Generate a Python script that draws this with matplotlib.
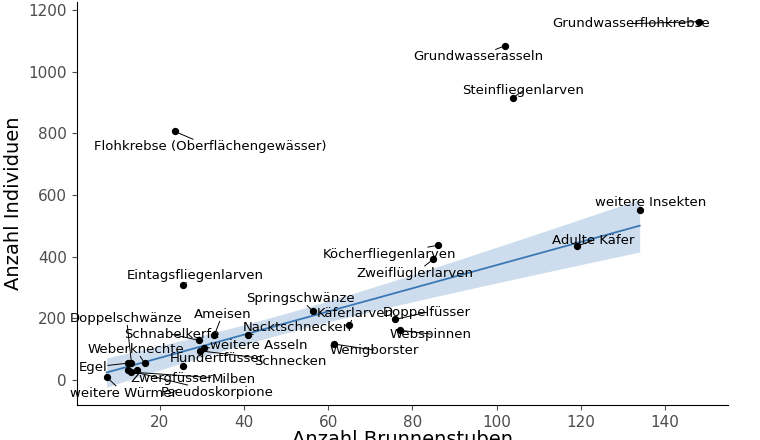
import numpy as np
import matplotlib
matplotlib.use("Agg")
import matplotlib.pyplot as plt

names = ["Grundwasserflohkrebse","Grundwasserasseln","Steinfliegenlarven","Flohkrebse (Oberflächengewässer)",
         "weitere Insekten","Adulte Käfer","Köcherfliegenlarven","Zweiflüglerlarven","Eintagsfliegenlarven",
         "Springschwänze","Käferlarven","Doppelfüsser","Webspinnen","Wenigborster","Nacktschnecken","Ameisen",
         "Schnabelkerfe","weitere Asseln","Schnecken","Hundertfüsser","Doppelschwänze","Weberknechte","Egel",
         "Zwergfüsser","Milben","Pseudoskorpione","weitere Würmer"]
brunnenstuben = [148,102,104,23.6,134,119,86,85,25.5,56.4,65,76,77,61.4,41,33,29.3,30.5,29.5,25.5,13.3,16.4,12.4,14.5,13.3,12.4,7.4]
individuen = [1162,1084,916,806,550,434,437,392,307,223,178,197,162,117,146,146,129,104,95,45,55,55,55,32,26,32,10]
in_fit = [False,False,False,False] + [True]*23
offsets = [(-67,-2),(-27,-11),(10,7),(35,-15),(11,8),(17,6),(-48,-9),(-18,-14),(12,10),(-13,13),(6,12),(31,7),(31,-4),
           (40,-6),(49,8),(8,21),(-27,6),(55,3),(91,-11),(34,8),(-5,45),(-9,14),(-35,-4),(35,-8),(102,-7),(89,-22),(17,-16)]

x = np.array(brunnenstuben); y = np.array(individuen)
m = np.array(in_fit)
fig = plt.figure(figsize=(7.6,4.4), dpi=100)
ax = fig.add_axes([0.101,0.08,0.857,0.915])

xf, yf = x[m], y[m]
n = len(xf)
b, a = np.polyfit(xf, yf, 1)
xs = np.linspace(xf.min(), xf.max(), 100)
yhat = a + b*xs
resid = yf - (a + b*xf)
s = np.sqrt(np.sum(resid**2)/(n-2))
se = s*np.sqrt(1/n + (xs-xf.mean())**2/np.sum((xf-xf.mean())**2))
t = 2.08
ax.fill_between(xs, yhat-t*se, yhat+t*se, color="#c5d8ea", alpha=0.85, lw=0)
ax.plot(xs, yhat, color="#3a78b5", lw=1.3)
ax.scatter(x, y, s=18, color="black", zorder=3)

for nm, xi, yi, (dx, dy) in zip(names, x, y, offsets):
    ax.annotate(nm, (xi, yi), xytext=(dx, dy), textcoords="offset pixels", ha="center", va="center",
                fontsize=9.5, bbox=dict(boxstyle="square,pad=0.05", fc="none", ec="none"),
                arrowprops=dict(arrowstyle="-", color="black", lw=0.7, shrinkA=0, shrinkB=2))

ax.set_xlim(0.3, 155)
ax.set_ylim(-80, 1225)
ax.set_xticks([20,40,60,80,100,120,140])
ax.set_yticks([0,200,400,600,800,1000,1200])
for sp in ["top","right"]:
    ax.spines[sp].set_visible(False)
ax.tick_params(colors="#4d4d4d", labelsize=11)
ax.set_xlabel("Anzahl Brunnenstuben", fontsize=14, labelpad=0)
ax.set_ylabel("Anzahl Individuen", fontsize=14)
fig.savefig("out.png", dpi=100)
